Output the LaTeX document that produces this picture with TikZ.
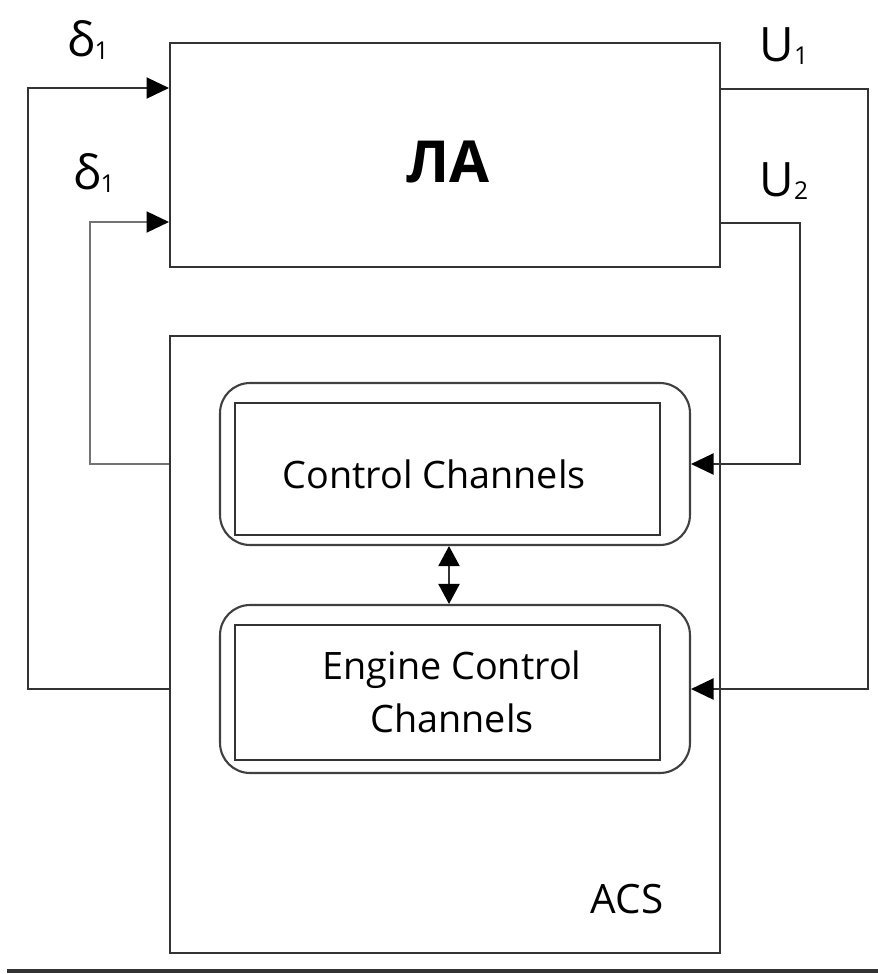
\documentclass[tikz,border=0pt]{standalone}
\usepackage{fontspec}
\setmainfont{Open Sans}
\usetikzlibrary{arrows.meta}

\newcommand{\sigsub}[1]{\raisebox{-1.5pt}{\fontsize{14}{14}\selectfont #1}}

\begin{document}
\begin{tikzpicture}[
    x=0.02cm, y=-0.02cm,
    wire/.style={draw=black!80, line width=1.2pt},
    tip/.style={-{Triangle[length=0.45cm, width=0.42cm, color=black]}},
    block/.style={draw=black!80, line width=1.2pt, minimum width=11cm, inner sep=0pt},
    frame/.style={draw=black!75, line width=1.2pt, rounded corners=0.6cm, minimum width=9.4cm},
    inbox/.style={draw=black!80, line width=1.2pt, minimum width=8.5cm},
    chtext/.style={align=center, font=\fontsize{21.5}{30}\selectfont},
    sig/.style={font=\fontsize{27}{30}\selectfont, inner sep=0pt}
]
\useasboundingbox (0,0) rectangle (878,974);

% === AIRCRAFT ===
\node[block, minimum height=4.48cm] (la) at (445,155) {};
\node[font=\fontsize{33}{36}\selectfont\bfseries] (latxt) at (448,162) {ЛА};

% === ACS ===
\node[block, minimum height=12.34cm] (acs) at (445,644.5) {};
\node (acslbl) at (627,899) {\fontsize{23}{26}\selectfont ACS};

% Control channels
\node[frame, minimum height=3.24cm] (ctrl) at (455,464) {};
\node[inbox, minimum height=2.64cm] (ctrlin) at (447.5,469) {};
\node[chtext] (ctrltxt) at (434,474) {Control Channels};

% Engine control channels
\node[frame, minimum height=3.36cm] (eng) at (455,689) {};
\node[inbox, minimum height=2.7cm] (engin) at (447.5,692.5) {};
\node[chtext] (engtxt) at (452,692) {Engine Control\\Channels};

% Link between channels
\draw[wire, {Triangle[length=0.4cm, width=0.42cm, color=black]}-{Triangle[length=0.4cm, width=0.42cm, color=black]}] (ctrl.south -| 449,0) -- (eng.north -| 449,0);

% === SIGNALS ===
\coordinate (lt) at (28,88);
\coordinate (li) at (90,222);
\coordinate (rt) at (868,89);
\coordinate (ri) at (800,223);

\node[sig] (d1) at (88,40) {δ\sigsub{1}};
\node[sig] (d2) at (94,173) {δ\sigsub{1}};
\node[sig] (u1) at (784,46) {U\sigsub{1}};
\node[sig] (u2) at (784,181) {U\sigsub{2}};

% Feedback loops
\draw[wire, tip] (acs.west |- eng) -| (lt) -- (la.west |- lt);
\draw[wire, tip, draw=black!55] (acs.west |- ctrl) -| (li) -- (la.west |- li);
\draw[wire, tip] (la.east |- rt) -- (rt) |- (eng.east);
\draw[wire, tip] (la.east |- ri) -- (ri) |- (ctrl.east);

% Baseline
\draw[black!80, line width=2pt] (7,971) -- (878,971);

\end{tikzpicture}
\end{document}
